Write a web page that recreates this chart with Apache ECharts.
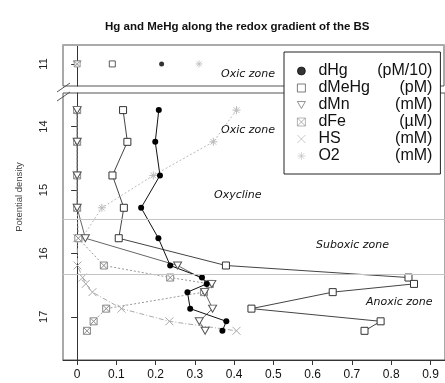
<!DOCTYPE html>
<html>
<head>
<meta charset="utf-8">
<script src="https://cdn.jsdelivr.net/npm/echarts@6/dist/echarts.min.js"></script>
<style>
html,body{margin:0;padding:0;background:#fff;}
#main{width:445px;height:383px;}
</style>
</head>
<body>
<div id="main"></div>
<script>
// sampled potential densities
var surfDensity=[11];
var density=[13.74,14.24,14.77,15.28,15.76,16.19,16.38,16.48,16.61,16.87,17.07,17.22];

// surface sample (top panel)
var dHgTop=[0.214];
var dMeHgTop=[0.089];
var dMnTop=[0.0];
var dFeTop=[0.0];
var hsTop=[null];
var o2Top=[0.309];

// profile (lower panel)
var dHg=[0.208,0.199,0.211,0.163,0.207,0.237,0.318,0.330,0.281,0.288,0.380,0.370];
var dMeHg=[0.117,0.128,0.090,0.119,0.106,0.379,0.844,0.858,0.651,0.444,0.773,0.732];
var dMn=[0.0,0.0,0.0,0.0,0.021,0.256,null,0.343,0.325,0.345,0.311,0.326];
var dFe=[0.0,0.0,0.0,0.0,0.003,0.068,0.237,0.338,0.323,0.074,0.042,0.025];
var hs=[null,null,null,null,0.0,0.001,0.014,0.022,0.039,0.113,0.235,0.406];
var o2=[0.406,0.347,0.194,0.063,0.012,null,null,null,null,null,null,null];

// zone limits (grey lines)
var zoneLimits=[15.46,16.33];

var names=['dHg','dMeHg','dMn','dFe','HS','O2'];
var units=['(pM/10)','(pM)','(mM)','(\u00b5M)','(mM)','(mM)'];
var xTicks=[0,0.1,0.2,0.3,0.4,0.5,0.6,0.7,0.8,0.9];
var yTicksTop=[11];
var yTicks=[14,15,16,17];

var SYM={
	dHg:'circle',
	dMeHg:'rect',
	dMn:'path://M0,0L10,0L5,8.7Z',
	dFe:'path://M0,0L10,0L10,10L0,10ZM0,0L10,10M10,0L0,10',
	HS:'path://M0,0L10,10M10,0L0,10',
	O2:'path://M5,0L5,10M0,5L10,5M1.5,1.5L8.5,8.5M8.5,1.5L1.5,8.5'
};
var STY={
	dHg:{color:'#000',borderColor:'#000',borderWidth:0},
	dMeHg:{color:'#fff',borderColor:'#333',borderWidth:1},
	dMn:{color:'#fff',borderColor:'#555',borderWidth:1},
	dFe:{color:'#fff',borderColor:'#8a8a8a',borderWidth:1},
	HS:{color:'transparent',borderColor:'#aaa',borderWidth:1},
	O2:{color:'transparent',borderColor:'#bbb',borderWidth:1}
};
var LINE={
	dHg:{color:'#111',width:1,type:'solid'},
	dMeHg:{color:'#444',width:1,type:'solid'},
	dMn:{color:'#666',width:1,type:'solid'},
	dFe:{color:'#999',width:1,type:[2,2]},
	HS:{color:'#aaa',width:1,type:[5,2,1,2]},
	O2:{color:'#bbb',width:1,type:[2,2]}
};
var SIZE={dHg:6,dMeHg:7,dMn:[8,7],dFe:7,HS:8,O2:8};
var SIZE_TOP={dHg:5,dMeHg:6,dMn:[7,6],dFe:6,HS:6,O2:7};

//把数值和密度配成点
function pairs(vals,dens){
	var arr=[];
	for(var i=0;i<vals.length;i++){
		if(vals[i]!=null) arr.push([vals[i],dens[i]]);
	}
	return arr;
}

var topVals={dHg:dHgTop,dMeHg:dMeHgTop,dMn:dMnTop,dFe:dFeTop,HS:hsTop,O2:o2Top};
var lowVals={dHg:dHg,dMeHg:dMeHg,dMn:dMn,dFe:dFe,HS:hs,O2:o2};

var series=[];
// top panel scatter first so legend takes its icons
names.forEach(function(n){
	series.push({
		name:n,type:'scatter',xAxisIndex:0,yAxisIndex:0,
		symbol:SYM[n],symbolSize:SIZE_TOP[n],
		itemStyle:STY[n],
		data:pairs(topVals[n],surfDensity),
		silent:true
	});
});
['O2','HS','dFe','dMn','dMeHg','dHg'].forEach(function(n){
	var s={
		name:n,type:'line',xAxisIndex:1,yAxisIndex:1,
		symbol:SYM[n],symbolSize:SIZE[n],showAllSymbol:true,
		itemStyle:STY[n],lineStyle:LINE[n],
		data:pairs(lowVals[n],density),
		animation:false,silent:true
	};
	if(n=='O2'){
		s.markLine={
			silent:true,symbol:'none',label:{show:false},
			lineStyle:{color:'#c4c4c4',width:1,type:'solid'},
			data:zoneLimits.map(function(v){return {yAxis:v};})
		};
	}
	series.push(s);
});

var zoneFont='italic 11px "DejaVu Sans"';
var myChart=echarts.init(document.getElementById('main'));
myChart.setOption({
	animation:false,
	backgroundColor:'#fff',
	title:{
		text:'Hg and MeHg along the redox gradient of the BS',
		left:100,top:16,
		textStyle:{fontFamily:'Liberation Sans',fontSize:11.5,fontWeight:'bold',color:'#111'}
	},
	legend:{
		orient:'vertical',left:284,top:52,
		padding:[11,8,10,13],itemGap:1,
		itemWidth:8,itemHeight:8,
		itemStyle:{borderWidth:0.8},
		backgroundColor:'#fff',borderColor:'#222',borderWidth:1,borderRadius:0,
		data:names,
		formatter:function(name){
			return '{n|'+name+'}{u|'+units[names.indexOf(name)]+'}';
		},
		textStyle:{
			padding:[0,0,0,8],
			rich:{
				n:{fontFamily:'Liberation Sans',fontSize:16,color:'#111',width:44,lineHeight:20},
				u:{fontFamily:'Liberation Sans',fontSize:16,color:'#111',width:70,align:'right',lineHeight:20}
			}
		}
	},
	grid:[
		{left:63,top:45,right:1,height:41,show:true,borderColor:'#555',borderWidth:1},
		{left:63,top:93,right:-2,height:267,show:true,borderColor:'#555',borderWidth:1}
	],
	xAxis:[
		{gridIndex:0,type:'value',min:-0.036,max:0.930,position:'top',
			axisLine:{show:true,lineStyle:{color:'#aaa',width:2}},
			axisTick:{show:false},axisLabel:{show:false},splitLine:{show:false}},
		{gridIndex:1,type:'value',min:-0.036,max:0.937,position:'bottom',
			axisLine:{show:true,lineStyle:{color:'#333'}},
			axisTick:{show:true,length:5,customValues:xTicks,lineStyle:{color:'#333'}},
			axisLabel:{customValues:xTicks,fontFamily:'Liberation Sans',fontSize:12,color:'#111',margin:9},
			splitLine:{show:false}}
	],
	yAxis:[
		{gridIndex:0,type:'value',min:10.70,max:11.35,inverse:true,
			axisLine:{show:true,lineStyle:{color:'#333'}},
			axisTick:{show:true,length:6,customValues:yTicksTop,lineStyle:{color:'#333'}},
			axisLabel:{customValues:yTicksTop,rotate:90,fontFamily:'Liberation Sans',fontSize:11,color:'#222',margin:14},
			splitLine:{show:false}},
		{gridIndex:1,type:'value',min:13.47,max:17.68,inverse:true,
			axisLine:{show:true,lineStyle:{color:'#333'}},
			axisTick:{show:true,length:6,customValues:yTicks,lineStyle:{color:'#333'}},
			axisLabel:{customValues:yTicks,rotate:90,fontFamily:'Liberation Sans',fontSize:11,color:'#222',margin:14},
			splitLine:{show:false}}
	],
	graphic:[
		{type:'line',shape:{x1:57,y1:92,x2:70,y2:83},style:{stroke:'#555',lineWidth:1}},
		{type:'line',shape:{x1:57,y1:101,x2:70,y2:92},style:{stroke:'#555',lineWidth:1}},
		{type:'text',x:19,y:197,rotation:Math.PI/2,
			style:{text:'Potential density',align:'center',verticalAlign:'middle',font:'9.5px "Liberation Sans"',fill:'#444'}},
		{type:'text',x:221,y:74,style:{text:'Oxic zone',verticalAlign:'middle',font:zoneFont,fill:'#111'}},
		{type:'text',x:221,y:130,style:{text:'Oxic zone',verticalAlign:'middle',font:zoneFont,fill:'#111'}},
		{type:'text',x:214,y:195,style:{text:'Oxycline',verticalAlign:'middle',font:zoneFont,fill:'#111'}},
		{type:'text',x:316,y:245,style:{text:'Suboxic zone',verticalAlign:'middle',font:zoneFont,fill:'#111'}},
		{type:'text',x:366,y:302,style:{text:'Anoxic zone',verticalAlign:'middle',font:zoneFont,fill:'#111'}}
	],
	series:series
});
</script>
</body>
</html>
